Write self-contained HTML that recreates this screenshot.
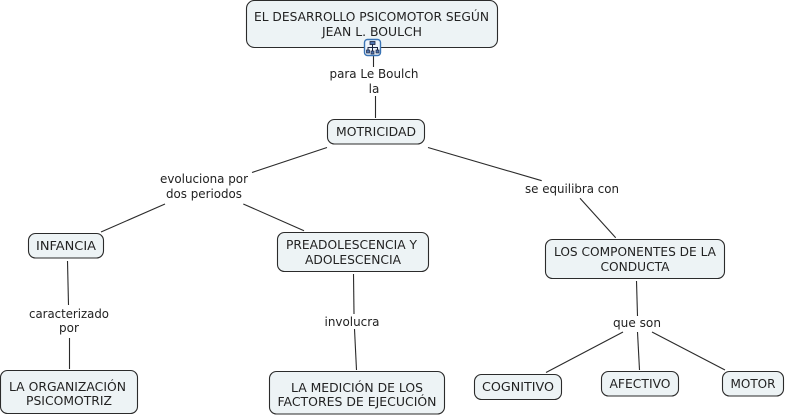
<!DOCTYPE html>
<html>
<head>
<meta charset="utf-8">
<style>
html,body{margin:0;padding:0;background:#fff;width:786px;height:417px;overflow:hidden}
svg{display:block}
text{font-family:"DejaVu Sans","Liberation Sans",sans-serif;font-size:12px;fill:#222;text-anchor:middle}
rect.n{fill:#edf3f5;stroke:#2b2b2b;stroke-width:1.1}
line{stroke:#2a2a2a;stroke-width:1.1}
</style>
</head>
<body>
<svg width="786" height="417" viewBox="0 0 786 417" xmlns="http://www.w3.org/2000/svg">
<line x1="373.5" y1="56" x2="373.5" y2="67"/>
<line x1="375.5" y1="96" x2="375.5" y2="118"/>
<line x1="327" y1="147.5" x2="252" y2="172.5"/>
<line x1="428" y1="147.5" x2="541.7" y2="180.7"/>
<line x1="165" y1="204" x2="101" y2="232"/>
<line x1="243.3" y1="204" x2="304" y2="230.7"/>
<line x1="580" y1="198.3" x2="615.7" y2="237.7"/>
<line x1="67.5" y1="261" x2="68.5" y2="305"/>
<line x1="69.5" y1="338" x2="69.5" y2="369"/>
<line x1="353.5" y1="274" x2="354" y2="314"/>
<line x1="354.5" y1="329" x2="356.5" y2="370"/>
<line x1="636.5" y1="281" x2="637.5" y2="316"/>
<line x1="623" y1="332" x2="546" y2="372.5"/>
<line x1="637.5" y1="332" x2="639.5" y2="370"/>
<line x1="652" y1="332" x2="725" y2="370"/>

<rect class="n" x="246.5" y="0.5" width="251" height="47" rx="8"/>
<rect class="n" x="327.5" y="119.5" width="97" height="24.5" rx="7"/>
<rect class="n" x="28.5" y="233.5" width="75" height="24.5" rx="7"/>
<rect class="n" x="277.5" y="232.5" width="151" height="39" rx="7"/>
<rect class="n" x="545.5" y="239.5" width="179" height="39" rx="7"/>
<rect class="n" x="0.5" y="370.5" width="137" height="43" rx="7"/>
<rect class="n" x="269.5" y="371.5" width="175" height="42.5" rx="7"/>
<rect class="n" x="474.5" y="374.5" width="87" height="25" rx="7"/>
<rect class="n" x="601.5" y="371.5" width="77" height="24.5" rx="7"/>
<rect class="n" x="722.5" y="371.5" width="61" height="24.5" rx="7"/>

<rect x="364.5" y="39.5" width="16" height="16" rx="3" fill="#eef4fb" stroke="#3a74b5" stroke-width="1.4"/>
<path d="M372.5 44V47M368 50V47.5H377.5V50M372.5 47.5V51" fill="none" stroke="#1a2440" stroke-width="1"/>
<rect x="370" y="41.5" width="5" height="3" fill="#4f74b0" stroke="#1a2440" stroke-width=".8"/>
<rect x="366.5" y="50" width="3" height="3" fill="#4f74b0" stroke="#1a2440" stroke-width=".7"/>
<rect x="371" y="51" width="3" height="3" fill="#4f74b0" stroke="#1a2440" stroke-width=".7"/>
<rect x="376" y="50" width="3" height="3" fill="#4f74b0" stroke="#1a2440" stroke-width=".7"/>

<text x="371.5" y="21" textLength="235" lengthAdjust="spacingAndGlyphs">EL DESARROLLO PSICOMOTOR SEGÚN</text>
<text x="372" y="36" textLength="100" lengthAdjust="spacingAndGlyphs">JEAN L. BOULCH</text>
<text x="374" y="78" textLength="89" lengthAdjust="spacingAndGlyphs">para Le Boulch</text>
<text x="374" y="93">la</text>
<text x="376" y="136" textLength="80" lengthAdjust="spacingAndGlyphs">MOTRICIDAD</text>
<text x="204" y="183" textLength="88" lengthAdjust="spacingAndGlyphs">evoluciona por</text>
<text x="204" y="198" textLength="76" lengthAdjust="spacingAndGlyphs">dos periodos</text>
<text x="572" y="193" textLength="94" lengthAdjust="spacingAndGlyphs">se equilibra con</text>
<text x="66" y="250" textLength="60" lengthAdjust="spacingAndGlyphs">INFANCIA</text>
<text x="351.5" y="249" textLength="131" lengthAdjust="spacingAndGlyphs">PREADOLESCENCIA Y</text>
<text x="353" y="264" textLength="96" lengthAdjust="spacingAndGlyphs">ADOLESCENCIA</text>
<text x="635" y="256" textLength="162" lengthAdjust="spacingAndGlyphs">LOS COMPONENTES DE LA</text>
<text x="635" y="271" textLength="69" lengthAdjust="spacingAndGlyphs">CONDUCTA</text>
<text x="69" y="318" textLength="80" lengthAdjust="spacingAndGlyphs">caracterizado</text>
<text x="69" y="332">por</text>
<text x="352" y="326" textLength="55" lengthAdjust="spacingAndGlyphs">involucra</text>
<text x="637" y="327" textLength="48" lengthAdjust="spacingAndGlyphs">que son</text>
<text x="67.5" y="391" textLength="117" lengthAdjust="spacingAndGlyphs">LA ORGANIZACIÓN</text>
<text x="69" y="405" textLength="86" lengthAdjust="spacingAndGlyphs">PSICOMOTRIZ</text>
<text x="357" y="392" textLength="132" lengthAdjust="spacingAndGlyphs">LA MEDICIÓN DE LOS</text>
<text x="357" y="406" textLength="159" lengthAdjust="spacingAndGlyphs">FACTORES DE EJECUCIÓN</text>
<text x="518" y="391" textLength="72" lengthAdjust="spacingAndGlyphs">COGNITIVO</text>
<text x="640" y="388" textLength="61" lengthAdjust="spacingAndGlyphs">AFECTIVO</text>
<text x="753" y="388" textLength="45" lengthAdjust="spacingAndGlyphs">MOTOR</text>
</svg>
</body>
</html>
